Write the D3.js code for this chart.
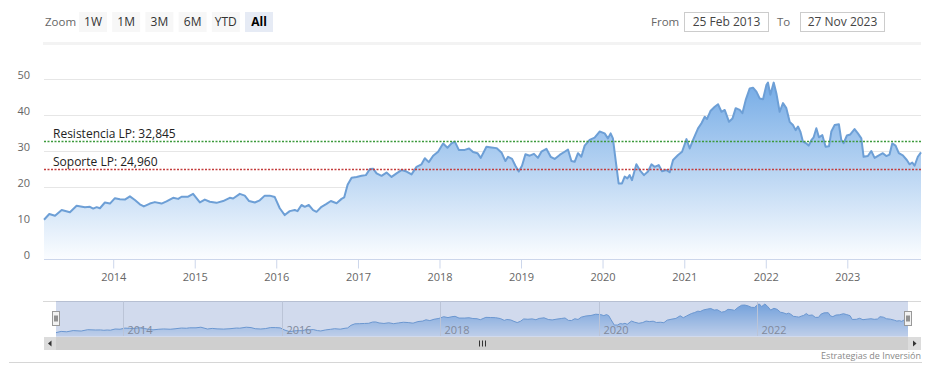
<!DOCTYPE html>
<html>
<head>
<meta charset="utf-8">
<script src="https://cdn.jsdelivr.net/npm/d3@7"></script>
<style>
  html, body { margin: 0; padding: 0; background: #fff; }
  svg { display: block; font-family: "Open Sans", "Noto Sans", sans-serif; }
</style>
</head>
<body>
<svg id="chart" width="937" height="379"></svg>
<script>
// ---------- DATA ----------
// Dates as decimal years, prices in the same order
const years = [
  2013.151, 2013.216, 2013.286, 2013.368, 2013.469, 2013.551, 2013.653, 2013.714, 2013.755, 2013.797,
  2013.837, 2013.898, 2013.960, 2014.021, 2014.082, 2014.143, 2014.205, 2014.266, 2014.327, 2014.376,
  2014.450, 2014.511, 2014.593, 2014.654, 2014.735, 2014.797, 2014.838, 2014.919, 2014.980, 2015.063,
  2015.124, 2015.185, 2015.267, 2015.348, 2015.430, 2015.471, 2015.553, 2015.614, 2015.667, 2015.737,
  2015.798, 2015.859, 2015.920, 2015.982, 2016.043, 2016.104, 2016.165, 2016.227, 2016.260, 2016.309,
  2016.349, 2016.398, 2016.451, 2016.493, 2016.554, 2016.615, 2016.668, 2016.738, 2016.799, 2016.831,
  2016.873, 2016.922, 2016.983, 2017.044, 2017.097, 2017.146, 2017.186, 2017.228, 2017.289, 2017.350,
  2017.412, 2017.473, 2017.534, 2017.596, 2017.657, 2017.718, 2017.779, 2017.820, 2017.869, 2017.922,
  2017.983, 2018.044, 2018.098, 2018.147, 2018.188, 2018.237, 2018.310, 2018.363, 2018.412, 2018.466,
  2018.506, 2018.576, 2018.637, 2018.699, 2018.760, 2018.809, 2018.841, 2018.890, 2018.931, 2018.972,
  2019.012, 2019.054, 2019.107, 2019.159, 2019.208, 2019.250, 2019.311, 2019.364, 2019.413, 2019.474,
  2019.535, 2019.576, 2019.618, 2019.658, 2019.699, 2019.740, 2019.781, 2019.842, 2019.903, 2019.964,
  2020.026, 2020.066, 2020.099, 2020.127, 2020.157, 2020.197, 2020.238, 2020.271, 2020.304, 2020.332,
  2020.360, 2020.414, 2020.455, 2020.507, 2020.556, 2020.598, 2020.638, 2020.687, 2020.728, 2020.782,
  2020.822, 2020.863, 2020.924, 2020.973, 2021.027, 2021.067, 2021.108, 2021.169, 2021.211, 2021.251,
  2021.279, 2021.321, 2021.374, 2021.414, 2021.456, 2021.496, 2021.549, 2021.591, 2021.631, 2021.680,
  2021.713, 2021.754, 2021.803, 2021.843, 2021.885, 2021.925, 2021.966, 2022.007, 2022.027, 2022.056,
  2022.097, 2022.130, 2022.170, 2022.211, 2022.252, 2022.293, 2022.333, 2022.366, 2022.395, 2022.424,
  2022.456, 2022.497, 2022.526, 2022.559, 2022.587, 2022.620, 2022.652, 2022.694, 2022.734, 2022.775,
  2022.804, 2022.844, 2022.897, 2022.926, 2022.955, 2022.995, 2023.037, 2023.089, 2023.130, 2023.172,
  2023.200, 2023.252, 2023.294, 2023.335, 2023.387, 2023.436, 2023.478, 2023.518, 2023.551, 2023.592,
  2023.632, 2023.681, 2023.730, 2023.763, 2023.797, 2023.825, 2023.865, 2023.904
];
const prices = [
  10.9, 12.5, 12.0, 13.6, 13.0, 14.8, 14.4, 14.5, 14.0, 14.4,
  14.1, 15.7, 15.4, 16.9, 16.6, 16.5, 17.4, 16.4, 15.2, 14.6,
  15.4, 15.8, 15.4, 16.0, 17.0, 16.7, 17.3, 17.3, 18.1, 15.7,
  16.5, 15.9, 15.6, 16.1, 17.0, 16.8, 18.1, 17.6, 16.1, 15.7,
  16.3, 17.6, 17.6, 17.2, 14.1, 12.2, 13.3, 13.6, 13.3, 15.0,
  14.5, 15.0, 13.6, 13.1, 14.5, 15.3, 16.1, 15.5, 16.7, 17.1,
  20.6, 22.6, 22.8, 23.1, 23.3, 25.0, 25.1, 23.8, 23.1, 24.0,
  22.8, 23.8, 24.7, 24.3, 23.5, 25.6, 26.3, 28.0, 26.9, 28.7,
  29.8, 32.1, 30.9, 32.1, 32.6, 30.3, 30.3, 30.7, 29.7, 29.4,
  28.1, 31.2, 31.0, 30.8, 29.6, 27.2, 28.4, 27.8, 25.9, 24.3,
  25.9, 29.1, 28.7, 29.2, 28.1, 29.8, 30.6, 28.4, 27.8, 28.9,
  29.8, 30.4, 27.2, 27.0, 29.4, 28.4, 31.5, 33.1, 33.7, 35.4,
  34.9, 33.5, 34.9, 33.5, 28.0, 21.0, 21.0, 22.9, 22.4, 23.3,
  21.9, 26.3, 24.7, 23.3, 24.3, 26.3, 25.6, 26.1, 24.4, 24.7,
  24.1, 27.5, 28.9, 29.8, 33.3, 30.7, 33.1, 36.3, 37.7, 39.5,
  38.9, 41.1, 42.3, 43.0, 40.9, 41.4, 38.1, 39.0, 41.9, 41.4,
  40.5, 44.2, 47.4, 47.6, 46.5, 44.6, 44.4, 48.3, 49.0, 45.6,
  49.0, 46.0, 40.9, 43.3, 41.9, 38.1, 37.2, 35.8, 36.8, 35.4,
  32.6, 32.1, 31.5, 33.0, 33.8, 36.3, 33.8, 34.4, 31.2, 31.3,
  35.4, 37.2, 37.4, 33.1, 32.2, 34.3, 34.6, 36.1, 34.9, 33.5,
  28.4, 28.6, 30.0, 28.1, 28.8, 29.4, 28.6, 29.0, 32.1, 31.5,
  29.4, 28.8, 27.5, 26.3, 26.8, 25.9, 28.4, 29.6
];
const yTicks = [0, 10, 20, 30, 40, 50];
const xTickYears = [2014, 2015, 2016, 2017, 2018, 2019, 2020, 2021, 2022, 2023];
const navTickYears = [2014, 2016, 2018, 2020, 2022];
const levelValues = [32.845, 24.960];
const levelLabels = ["Resistencia LP: 32,845", "Soporte LP: 24,960"];
const levelColors = ["#3c9a3c", "#c43c3c"];
const zoomButtons = ["1W", "1M", "3M", "6M", "YTD", "All"];
const selectedButton = "All";
const fromDate = "25 Feb 2013";
const toDate = "27 Nov 2023";
const credits = "Estrategias de Inversión";

// ---------- HELPERS ----------
function decToDate(y) {
  const Y = Math.floor(y);
  const a = Date.UTC(Y, 0, 1), b = Date.UTC(Y + 1, 0, 1);
  return new Date(a + (y - Y) * (b - a));
}
const data = years.map((y, i) => ({ date: decToDate(y), value: prices[i] }));

const svg = d3.select("#chart");

// ---------- LAYOUT ----------
const plot = { left: 44, right: 921, top: 79, bottom: 259 };
const nav = { left: 56, right: 908, top: 301, bottom: 336 };
const scroll = { left: 44, right: 921, top: 337, bottom: 350 };

const x = d3.scaleUtc().domain(d3.extent(data, d => d.date)).range([plot.left, plot.right]);
const y = d3.scaleLinear().domain([0, 50]).range([plot.bottom, plot.top]);

const lineColor = "#6d9fd6";

// defs
const defs = svg.append("defs");
const grad = defs.append("linearGradient").attr("id", "areaGrad")
  .attr("gradientUnits", "userSpaceOnUse")
  .attr("x1", 0).attr("x2", 0).attr("y1", y(49)).attr("y2", plot.bottom);
grad.append("stop").attr("offset", 0).attr("stop-color", "#76ace6");
grad.append("stop").attr("offset", 1).attr("stop-color", "#fbfdff");

// ---------- TOP CONTROLS ----------
svg.append("text").attr("x", 45).attr("y", 26).attr("font-size", 11.5).attr("fill", "#666").text("Zoom");
const btnG = svg.append("g");
zoomButtons.forEach((b, i) => {
  const bx = 79 + i * 33.2;
  const sel = b === selectedButton;
  btnG.append("rect").attr("x", bx).attr("y", 12).attr("width", 28).attr("height", 20)
    .attr("fill", sel ? "#e6ebf5" : "#f7f7f7");
  btnG.append("text").attr("x", bx + 14).attr("y", 26).attr("text-anchor", "middle")
    .attr("font-size", 12).attr("font-weight", sel ? "bold" : "normal")
    .attr("fill", sel ? "#000" : "#333").text(b);
});

svg.append("text").attr("x", 651).attr("y", 26).attr("font-size", 11.5).attr("fill", "#666").text("From");
svg.append("rect").attr("x", 684.5).attr("y", 12.5).attr("width", 84).attr("height", 19)
  .attr("fill", "#fff").attr("stroke", "#cccccc");
svg.append("text").attr("x", 726.5).attr("y", 26).attr("text-anchor", "middle").attr("font-size", 12)
  .attr("fill", "#444").text(fromDate);
svg.append("text").attr("x", 777).attr("y", 26).attr("font-size", 11.5).attr("fill", "#666").text("To");
svg.append("rect").attr("x", 800.5).attr("y", 12.5).attr("width", 84).attr("height", 19)
  .attr("fill", "#fff").attr("stroke", "#cccccc");
svg.append("text").attr("x", 842.5).attr("y", 26).attr("text-anchor", "middle").attr("font-size", 12)
  .attr("fill", "#444").text(toDate);

svg.append("rect").attr("x", 43).attr("y", 42).attr("width", 878).attr("height", 3).attr("fill", "#f3f3f3");

// ---------- GRID + Y AXIS ----------
const gridG = svg.append("g");
yTicks.forEach(t => {
  if (t === 0) return;
  gridG.append("line").attr("x1", plot.left).attr("x2", plot.right)
    .attr("y1", Math.round(y(t)) + 0.5).attr("y2", Math.round(y(t)) + 0.5)
    .attr("stroke", "#e6e6e6").attr("stroke-width", 1);
});
const yAxisG = svg.append("g").attr("transform", `translate(30,0)`)
  .call(d3.axisLeft(y).tickValues(yTicks).tickSize(0).tickPadding(0).tickFormat(d3.format("d")));
yAxisG.select(".domain").remove();
yAxisG.selectAll("text").attr("font-size", 11).attr("fill", "#666")
  .attr("font-family", "\"Open Sans\", sans-serif").attr("dy", "-0.05em");

// ---------- AREA ----------
const area = d3.area().x(d => x(d.date)).y0(plot.bottom).y1(d => y(d.value));
const line = d3.line().x(d => x(d.date)).y(d => y(d.value));
svg.append("path").datum(data).attr("d", area).attr("fill", "url(#areaGrad)");
svg.append("path").datum(data).attr("d", line).attr("fill", "none")
  .attr("stroke", lineColor).attr("stroke-width", 2).attr("stroke-linejoin", "round");

// ---------- PLOT LINES ----------
levelValues.forEach((v, i) => {
  const yy = Math.round(y(v)) + 0.5;
  svg.append("line").attr("x1", plot.left).attr("x2", plot.right).attr("y1", yy).attr("y2", yy)
    .attr("stroke", levelColors[i]).attr("stroke-width", 1.6).attr("stroke-dasharray", "2,1.5");
  svg.append("text").attr("x", 53).attr("y", yy - 4).attr("font-size", 12).attr("fill", "#222")
    .text(levelLabels[i]);
});

// ---------- X AXIS ----------
const xTicks = xTickYears.map(yy => new Date(Date.UTC(yy, 0, 1)));
const xAxisG = svg.append("g").attr("transform", `translate(0,${plot.bottom + 0.5})`)
  .call(d3.axisBottom(x).tickValues(xTicks).tickSize(9).tickPadding(5).tickFormat(d3.utcFormat("%Y")));
xAxisG.select(".domain").attr("stroke", "#ccd6eb").attr("d", `M${plot.left},0H${plot.right}`);
xAxisG.selectAll(".tick line").attr("stroke", "#ccd6eb");
xAxisG.selectAll("text").attr("font-size", 11).attr("fill", "#666")
  .attr("font-family", "\"Open Sans\", sans-serif");

// ---------- NAVIGATOR ----------
const nx = d3.scaleUtc().domain(d3.extent(data, d => d.date)).range([nav.left, nav.right]);
const [vmin, vmax] = d3.extent(data, d => d.value);
const ny = d3.scaleLinear().domain([vmin - 4.5, vmax + 4]).range([nav.bottom, nav.top]);

svg.append("line").attr("x1", 43).attr("x2", 921).attr("y1", nav.top + 0.5).attr("y2", nav.top + 0.5)
  .attr("stroke", "#d8d8d8");

const navGrad = defs.append("linearGradient").attr("id", "navGrad")
  .attr("gradientUnits", "userSpaceOnUse")
  .attr("x1", 0).attr("x2", 0).attr("y1", ny(vmax)).attr("y2", nav.bottom);
navGrad.append("stop").attr("offset", 0).attr("stop-color", "#7aaee6");
navGrad.append("stop").attr("offset", 1).attr("stop-color", "#e4eefa");

const navArea = d3.area().x(d => nx(d.date)).y0(nav.bottom).y1(d => ny(d.value));
const navLine = d3.line().x(d => nx(d.date)).y(d => ny(d.value));
svg.append("path").datum(data).attr("d", navArea).attr("fill", "url(#navGrad)");
svg.append("path").datum(data).attr("d", navLine).attr("fill", "none")
  .attr("stroke", lineColor).attr("stroke-width", 1);

navTickYears.forEach(yy => {
  const xx = Math.round(nx(new Date(Date.UTC(yy, 0, 1)))) + 0.5;
  svg.append("line").attr("x1", xx).attr("x2", xx).attr("y1", nav.top).attr("y2", nav.bottom)
    .attr("stroke", "#e0e0e0");
  svg.append("text").attr("x", xx + 4).attr("y", 333.5).attr("font-size", 11).attr("fill", "#8c8c8c")
    .text(yy);
});

// selection mask (whole range selected)
svg.append("rect").attr("x", nav.left).attr("y", nav.top).attr("width", nav.right - nav.left)
  .attr("height", nav.bottom - nav.top + 1).attr("fill", "rgba(102,133,194,0.3)");

// handles
[nav.left, nav.right].forEach(hx => {
  const g = svg.append("g").attr("transform", `translate(${Math.round(hx) - 3.5},311.5)`);
  g.append("rect").attr("width", 7).attr("height", 14).attr("fill", "#f2f2f2").attr("stroke", "#999");
  g.append("line").attr("x1", 2.5).attr("x2", 2.5).attr("y1", 4).attr("y2", 10).attr("stroke", "#333");
  g.append("line").attr("x1", 4.5).attr("x2", 4.5).attr("y1", 4).attr("y2", 10).attr("stroke", "#333");
});

// ---------- SCROLLBAR ----------
svg.append("rect").attr("x", scroll.left).attr("y", scroll.top).attr("width", scroll.right - scroll.left)
  .attr("height", scroll.bottom - scroll.top).attr("fill", "#f2f2f2");
svg.append("rect").attr("x", nav.left).attr("y", scroll.top).attr("width", nav.right - nav.left)
  .attr("height", scroll.bottom - scroll.top).attr("fill", "#cfcfcf");
[[scroll.left, "L"], [nav.right, "R"]].forEach(([bx, dir]) => {
  const w = dir === "L" ? nav.left - scroll.left : scroll.right - nav.right;
  svg.append("rect").attr("x", bx).attr("y", scroll.top).attr("width", w)
    .attr("height", scroll.bottom - scroll.top).attr("fill", "#dcdcdc");
  const cx = bx + w / 2, cy = (scroll.top + scroll.bottom) / 2;
  const p = dir === "L" ? `M${cx + 1.5},${cy - 3}L${cx - 2},${cy}L${cx + 1.5},${cy + 3}Z`
                        : `M${cx - 1.5},${cy - 3}L${cx + 2},${cy}L${cx - 1.5},${cy + 3}Z`;
  svg.append("path").attr("d", p).attr("fill", "#333");
});
const gripX = (nav.left + nav.right) / 2;
[-3, 0, 3].forEach(dx => {
  svg.append("line").attr("x1", Math.round(gripX + dx) + 0.5).attr("x2", Math.round(gripX + dx) + 0.5)
    .attr("y1", scroll.top + 3.5).attr("y2", scroll.bottom - 3.5).attr("stroke", "#333");
});

// ---------- FOOTER ----------
svg.append("text").attr("x", 921).attr("y", 358.5).attr("text-anchor", "end").attr("font-size", 9)
  .attr("fill", "#888").text(credits);
svg.append("line").attr("x1", 9).attr("x2", 922).attr("y1", 362.5).attr("y2", 362.5).attr("stroke", "#d6d6d6");
</script>
</body>
</html>
